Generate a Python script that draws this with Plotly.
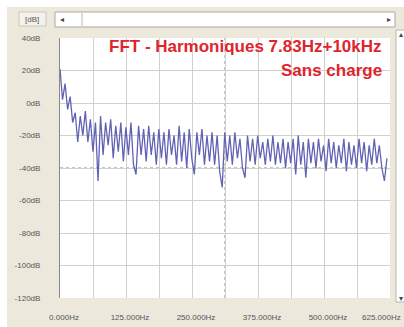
import plotly.graph_objects as go

# ---- data ----
bin_width_hz = 4.8
level_db = [
    21, 2, 12, -4, 4, -12, -6, -24, -8, -20,
    -5, -24, -10, -30, -12, -48, -8, -32, -12, -26,
    -10, -34, -14, -30, -12, -36, -15, -32, -12, -38,
    -44, -14, -32, -16, -36, -14, -32, -18, -38, -16,
    -34, -18, -38, -16, -32, -20, -38, -14, -36, -18,
    -40, -16, -34, -44, -18, -32, -16, -38, -20, -36,
    -18, -38, -20, -42, -52, -18, -36, -20, -38, -18,
    -34, -22, -40, -46, -20, -36, -22, -38, -20, -34,
    -24, -38, -22, -36, -20, -38, -24, -37, -22, -40,
    -24, -37, -22, -44, -20, -38, -24, -46, -22, -37,
    -24, -40, -22, -36, -26, -42, -22, -37, -24, -40,
    -26, -37, -22, -42, -24, -38, -26, -40, -22, -37,
    -24, -42, -26, -38, -22, -37, -26, -40, -48, -34,
]
freq_hz = [i * bin_width_hz for i in range(len(level_db))]

x_grid = [0, 62.5, 125, 187.5, 250, 312.5, 375, 437.5, 500, 562.5, 625]
x_labels = ["0.000Hz", "", "125.000Hz", "", "250.000Hz", "", "375.000Hz", "",
            "500.000Hz", "", "625.000Hz"]
y_ticks = [40, 20, 0, -20, -40, -60, -80, -100, -120]
y_labels = ["40dB", "20dB", "0dB", "-20dB", "-40dB", "-60dB", "-80dB", "-100dB", "-120dB"]

title_line1 = "FFT - Harmoniques 7.83Hz+10kHz"
title_line2 = "Sans charge"

# ---- geometry helpers (pixel -> paper) ----
L, R, T, B = 60, 390, 38, 298
W, H = 404, 327
def px(x):
    return (x - L) / (R - L)
def py(y):
    return (B - y) / (B - T)

BEIGE = "#ECE9DC"
GRID = "#D0D0D0"
FONT = "Liberation Sans"

# last label sits at the window edge: drawn separately, right-aligned inside the picture
axis_ticktext = x_labels[:-1] + [""]

fig = go.Figure()
fig.add_trace(go.Scatter(
    x=freq_hz, y=level_db, mode="lines",
    line=dict(color="#6262B4", width=1.3),
    hoverinfo="skip", showlegend=False,
))

shapes = []
# white outer frame on top and left
shapes.append(dict(type="rect", xref="paper", yref="paper", x0=px(0), x1=px(W), y0=py(0), y1=py(7),
                   fillcolor="white", line=dict(width=0), layer="above"))
shapes.append(dict(type="rect", xref="paper", yref="paper", x0=px(0), x1=px(7), y0=py(0), y1=py(H),
                   fillcolor="white", line=dict(width=0), layer="above"))
# top scrollbar
shapes.append(dict(type="rect", xref="paper", yref="paper", x0=px(55), x1=px(395), y0=py(12), y1=py(27),
                   fillcolor="white", line=dict(color="#A8A8A0", width=1), layer="above"))
shapes.append(dict(type="line", xref="paper", yref="paper", x0=px(82), x1=px(82), y0=py(13), y1=py(26),
                   line=dict(color="#B8B8B0", width=1), layer="above"))
# [dB] box
shapes.append(dict(type="rect", xref="paper", yref="paper", x0=px(19), x1=px(46), y0=py(12), y1=py(26),
                   fillcolor="#F4F2EA", line=dict(color="#C8C6BC", width=1), layer="above"))
# right scrollbar
shapes.append(dict(type="rect", xref="paper", yref="paper", x0=px(396), x1=px(406), y0=py(30), y1=py(302),
                   fillcolor="white", line=dict(color="#B8B8B0", width=1), layer="above"))
# dotted reference lines
shapes.append(dict(type="line", xref="x", yref="y", x0=0, x1=625, y0=-40, y1=-40,
                   line=dict(color="#8C8C8C", width=1, dash="dot"), layer="below"))
shapes.append(dict(type="line", xref="x", yref="y", x0=312.5, x1=312.5, y0=-120, y1=40,
                   line=dict(color="#8C8C8C", width=1, dash="dot"), layer="below"))

annotations = [
    dict(text="<b>" + title_line1 + "</b>", xref="paper", yref="paper", x=px(384), y=py(46),
         xanchor="right", yanchor="middle", showarrow=False,
         font=dict(family=FONT, size=17, color="#E0242C")),
    dict(text="<b>" + title_line2 + "</b>", xref="paper", yref="paper", x=px(384), y=py(70),
         xanchor="right", yanchor="middle", showarrow=False,
         font=dict(family=FONT, size=17, color="#E0242C")),
    dict(text=x_labels[-1], xref="paper", yref="paper", x=px(403), y=py(317),
         xanchor="right", yanchor="middle", showarrow=False,
         font=dict(family=FONT, size=8, color="#555555")),
    dict(text="[dB]", xref="paper", yref="paper", x=px(32), y=py(19),
         xanchor="center", yanchor="middle", showarrow=False,
         font=dict(family=FONT, size=8, color="#555555")),
    dict(text="◂", xref="paper", yref="paper", x=px(62), y=py(19),
         xanchor="center", yanchor="middle", showarrow=False,
         font=dict(family="DejaVu Sans", size=8, color="#444444")),
    dict(text="▸", xref="paper", yref="paper", x=px(389), y=py(19),
         xanchor="center", yanchor="middle", showarrow=False,
         font=dict(family="DejaVu Sans", size=8, color="#444444")),
    dict(text="▴", xref="paper", yref="paper", x=px(401), y=py(34),
         xanchor="center", yanchor="middle", showarrow=False,
         font=dict(family="DejaVu Sans", size=8, color="#444444")),
    dict(text="▾", xref="paper", yref="paper", x=px(401), y=py(298),
         xanchor="center", yanchor="middle", showarrow=False,
         font=dict(family="DejaVu Sans", size=8, color="#444444")),
]

fig.update_layout(
    width=W, height=H,
    margin=dict(l=L, r=W - R, t=T, b=H - B, pad=0, autoexpand=False),
    paper_bgcolor=BEIGE, plot_bgcolor="white",
    shapes=shapes, annotations=annotations,
    showlegend=False,
    font=dict(family=FONT, size=8, color="#555555"),
    xaxis=dict(range=[0, 625], tickmode="array", tickvals=x_grid, ticktext=axis_ticktext,
               showgrid=True, gridcolor=GRID, gridwidth=1, zeroline=False,
               ticks="", showline=False, ticklabelstandoff=13, ticklabelshift=4,
               ticklabeloverflow="allow", automargin=False,
               tickfont=dict(family=FONT, size=8, color="#555555"), fixedrange=True),
    yaxis=dict(range=[-120, 40], tickmode="array", tickvals=y_ticks, ticktext=y_labels,
               showgrid=True, gridcolor=GRID, gridwidth=1, zeroline=False,
               ticks="", showline=True, linecolor="#8A8A84", linewidth=1,
               ticklabelstandoff=17, automargin=False,
               tickfont=dict(family=FONT, size=8, color="#555555"), fixedrange=True),
)

fig.write_html("out.html", config={"displayModeBar": False})
